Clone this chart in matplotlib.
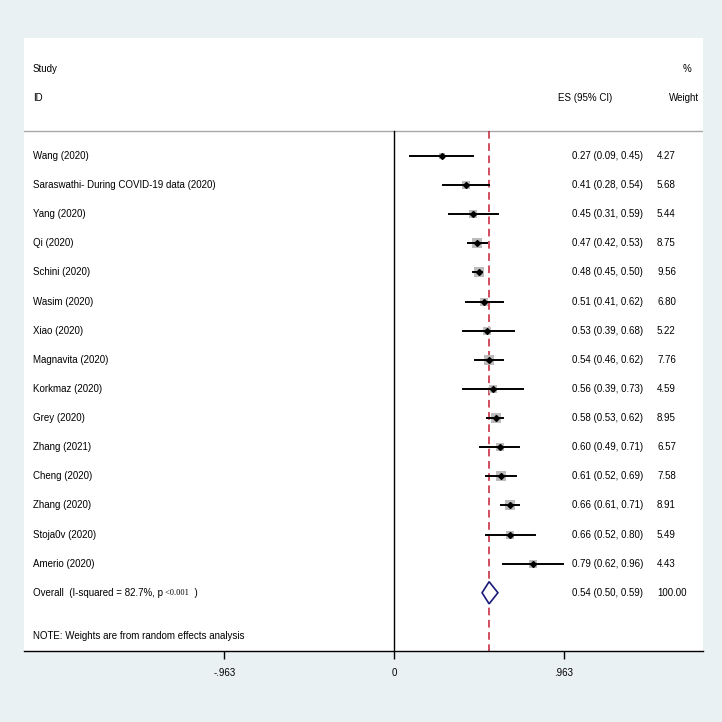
import matplotlib
matplotlib.use('Agg')
import matplotlib.pyplot as plt
import numpy as np

plt.rcParams['font.family'] = ['Liberation Sans', 'DejaVu Sans']

studies = ['Wang (2020)', 'Saraswathi- During COVID-19 data (2020)', 'Yang (2020)',
           'Qi (2020)', 'Schini (2020)', 'Wasim (2020)', 'Xiao (2020)',
           'Magnavita (2020)', 'Korkmaz (2020)', 'Grey (2020)', 'Zhang (2021)',
           'Cheng (2020)', 'Zhang (2020)', 'Stoja0v (2020)', 'Amerio (2020)']
es = [0.27, 0.41, 0.45, 0.47, 0.48, 0.51, 0.53, 0.54, 0.56, 0.58, 0.60, 0.61, 0.66, 0.66, 0.79]
lo = [0.09, 0.28, 0.31, 0.42, 0.45, 0.41, 0.39, 0.46, 0.39, 0.53, 0.49, 0.52, 0.61, 0.52, 0.62]
hi = [0.45, 0.54, 0.59, 0.53, 0.50, 0.62, 0.68, 0.62, 0.73, 0.62, 0.71, 0.69, 0.71, 0.80, 0.96]
weight = [4.27, 5.68, 5.44, 8.75, 9.56, 6.80, 5.22, 7.76, 4.59, 8.95, 6.57, 7.58, 8.91, 5.49, 4.43]
overall_es, overall_lo, overall_hi = 0.54, 0.50, 0.59
ticks = [-0.963, 0, 0.963]
tick_labels = ['-.963', '0', '.963']

bg = '#eaf1f3'
fig = plt.figure(figsize=(7.22, 7.22), dpi=100, facecolor=bg)
ax = fig.add_axes([24 / 722, 71 / 722, 679 / 722, 613 / 722])
ax.set_facecolor('white')
ax.set_xlim(-2.10, 1.754)
ax.set_ylim(17.0, -4.05)
for s in ['top', 'left', 'right']:
    ax.spines[s].set_visible(False)
ax.spines['bottom'].set_linewidth(1.0)
ax.set_yticks([])
ax.set_xticks(ticks)
ax.set_xticklabels(tick_labels, fontsize=7)
ax.tick_params(axis='x', direction='out', length=6, width=1, pad=6)

fs = 7
x_lab = -2.05
x_es = 1.01
x_w = 1.493

# header
ax.text(x_lab, -3, 'Study', fontsize=fs, va='center')
ax.text(x_lab, -2, 'ID', fontsize=fs, va='center')
ax.text(0.93, -2, 'ES (95% CI)', fontsize=fs, va='center')
ax.text(1.64, -3, '%', fontsize=fs, va='center')
ax.text(1.562, -2, 'Weight', fontsize=fs, va='center')

ax.axhline(-0.85, color='#a8a8a8', lw=1.0)
ax.plot([0, 0], [-0.85, 17.0], color='black', lw=1.0)
ax.plot([overall_es, overall_es], [-0.85, 17.0], color='#c41e34', lw=1.1,
        linestyle=(0, (5, 3)))

rows = np.arange(len(studies))
for i in rows:
    ax.text(x_lab, i, studies[i], fontsize=fs, va='center')
    ax.text(x_es, i, '%.2f (%.2f, %.2f)' % (es[i], lo[i], hi[i]), fontsize=fs, va='center')
    ax.text(x_w, i, '%.2f' % weight[i], fontsize=fs, va='center')
    ax.plot(es[i], i, marker='s', markersize=np.sqrt(weight[i]) * 2.4,
            color='#bcbcbc', markeredgewidth=0, zorder=2)
    ax.plot([lo[i], hi[i]], [i, i], color='black', lw=1.4, zorder=3)
    ax.plot(es[i], i, marker='D', markersize=3, color='black', zorder=4)

yo = len(studies)
ax.fill([overall_lo, overall_es, overall_hi, overall_es],
        [yo, yo - 0.38, yo, yo + 0.38], facecolor='white', edgecolor='#1a1a7a',
        lw=1.2, zorder=5)
t1 = ax.text(x_lab, yo, 'Overall  (I-squared = 82.7%, p', fontsize=fs, va='center')
t2 = ax.annotate(' <0.001', xy=(1, 0.5), xycoords=t1, va='center', ha='left',
                 fontsize=6, family='Liberation Serif')
ax.annotate('  )', xy=(1, 0.5), xycoords=t2, va='center', ha='left', fontsize=fs)
ax.text(x_es, yo, '%.2f (%.2f, %.2f)' % (overall_es, overall_lo, overall_hi),
        fontsize=fs, va='center')
ax.text(x_w, yo, '100.00', fontsize=fs, va='center')

ax.text(x_lab, 16.5, 'NOTE: Weights are from random effects analysis', fontsize=fs, va='center')

fig.savefig('out.png', dpi=100, facecolor=bg)
